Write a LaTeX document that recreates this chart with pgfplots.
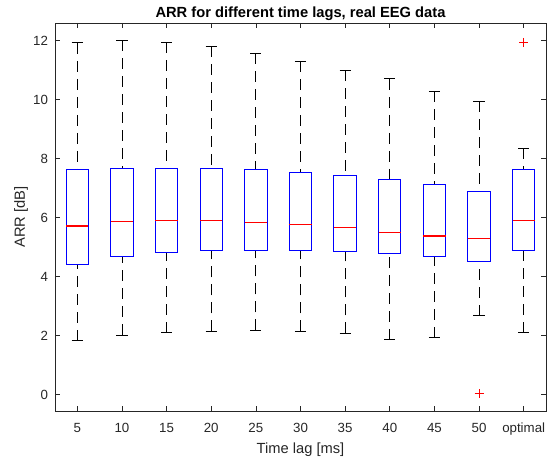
\documentclass[border=0pt]{standalone}
\usepackage{pgfplots}
\pgfplotsset{compat=1.18}
\usepgfplotslibrary{statistics}
\usepackage{fontspec}
\setmainfont{Liberation Sans}

\definecolor{axgray}{rgb}{0.15,0.15,0.15}
\definecolor{mblue}{rgb}{0,0,1}
\definecolor{mred}{rgb}{1,0,0}

\pgfplotsset{
  mbox/.style={
    solid, draw=mblue, line width=1pt,
    boxplot/draw direction=y,
    boxplot/box extend=0.5,
    boxplot/whisker extend=0.25,
    boxplot/every box/.style={draw=mblue, line width=1pt},
    boxplot/every median/.style={draw=mred, line width=1.1pt},
    boxplot/every whisker/.style={draw=black, line width=0.75pt},
    boxplot/draw/lower whisker/.code={%
      \draw[/pgfplots/boxplot/every whisker/.try, dash pattern=on 11pt off 7pt]
        (boxplot cs:\pgfplotsboxplotvalue{lower whisker}) --
        (boxplot cs:\pgfplotsboxplotvalue{lower quartile});
      \draw[/pgfplots/boxplot/every whisker/.try, solid]
        (boxplot whisker cs:\pgfplotsboxplotvalue{lower whisker},0) --
        (boxplot whisker cs:\pgfplotsboxplotvalue{lower whisker},1);
    },
    boxplot/draw/upper whisker/.code={%
      \draw[/pgfplots/boxplot/every whisker/.try, dash pattern=on 11pt off 7pt]
        (boxplot cs:\pgfplotsboxplotvalue{upper whisker}) --
        (boxplot cs:\pgfplotsboxplotvalue{upper quartile});
      \draw[/pgfplots/boxplot/every whisker/.try, solid]
        (boxplot whisker cs:\pgfplotsboxplotvalue{upper whisker},0) --
        (boxplot whisker cs:\pgfplotsboxplotvalue{upper whisker},1);
    },
    mark=+, mark size=4.5pt,
    mark options={draw=mred, color=mred, solid, line width=1pt},
  },
}

\begin{document}
\begin{tikzpicture}
\useasboundingbox (-55pt,-49pt) rectangle (501pt,411pt);
\begin{axis}[
    at={(0,0)}, anchor=south west,
    scale only axis,
    width=491pt, height=388pt,
    xmin=0.5, xmax=11.5,
    ymin=-0.55, ymax=12.6,
    xtick={1,2,3,4,5,6,7,8,9,10,11},
    xticklabels={5,10,15,20,25,30,35,40,45,50,optimal},
    ytick={0,2,4,6,8,10,12},
    /pgf/number format/assume math mode=true,
    tick align=inside,
    major tick length=5pt,
    axis line style={draw=axgray, line width=0.6pt},
    every tick/.style={draw=axgray, line width=0.6pt},
    tick label style={font=\fontsize{13.3}{15}\selectfont, text=axgray},
    xticklabel style={anchor=base, yshift=-21pt},
    yticklabel style={xshift=-3.5pt},
    title={ARR for different time lags, real EEG data},
    every axis title shift=0pt,
    title style={at={(0.5,1)}, anchor=base, yshift=5.5pt,
                 font=\fontsize{14.7}{17}\selectfont\bfseries, text=black},
    xlabel={Time lag [ms]},
    xlabel style={at={(axis description cs:0.5,0)}, anchor=base, yshift=-42pt,
                  font=\fontsize{14.7}{17}\selectfont, text=axgray},
    ylabel={ARR [dB]},
    ylabel style={at={(axis description cs:-0.0692,0.5)}, anchor=center,
                  font=\fontsize{14.7}{17}\selectfont, text=axgray},
]
% 5 ms
\addplot[mbox, boxplot prepared={draw position=1,
  lower whisker=1.83, lower quartile=4.40, median=5.72,
  upper quartile=7.62, upper whisker=11.93}] coordinates {};
% 10 ms
\addplot[mbox, boxplot prepared={draw position=2,
  lower whisker=2.03, lower quartile=4.67, median=5.88,
  upper quartile=7.66, upper whisker=12.01}] coordinates {};
% 15 ms
\addplot[mbox, boxplot prepared={draw position=3,
  lower whisker=2.10, lower quartile=4.83, median=5.92,
  upper quartile=7.68, upper whisker=11.95}] coordinates {};
% 20 ms
\addplot[mbox, boxplot prepared={draw position=4,
  lower whisker=2.15, lower quartile=4.88, median=5.90,
  upper quartile=7.67, upper whisker=11.81}] coordinates {};
% 25 ms
\addplot[mbox, boxplot prepared={draw position=5,
  lower whisker=2.18, lower quartile=4.90, median=5.85,
  upper quartile=7.64, upper whisker=11.57}] coordinates {};
% 30 ms
\addplot[mbox, boxplot prepared={draw position=6,
  lower whisker=2.15, lower quartile=4.89, median=5.76,
  upper quartile=7.54, upper whisker=11.30}] coordinates {};
% 35 ms
\addplot[mbox, boxplot prepared={draw position=7,
  lower whisker=2.08, lower quartile=4.86, median=5.66,
  upper quartile=7.43, upper whisker=11.00}] coordinates {};
% 40 ms
\addplot[mbox, boxplot prepared={draw position=8,
  lower whisker=1.87, lower quartile=4.79, median=5.50,
  upper quartile=7.29, upper whisker=10.71}] coordinates {};
% 45 ms
\addplot[mbox, boxplot prepared={draw position=9,
  lower whisker=1.94, lower quartile=4.67, median=5.38,
  upper quartile=7.11, upper whisker=10.28}] coordinates {};
% 50 ms
\addplot[mbox, boxplot prepared={draw position=10,
  lower whisker=2.68, lower quartile=4.50, median=5.29,
  upper quartile=6.88, upper whisker=9.94}] coordinates {(0,0.04)};
% optimal
\addplot[mbox, boxplot prepared={draw position=11,
  lower whisker=2.10, lower quartile=4.89, median=5.92,
  upper quartile=7.64, upper whisker=8.36}] coordinates {(0,11.94)};
\end{axis}
\end{tikzpicture}
\end{document}
